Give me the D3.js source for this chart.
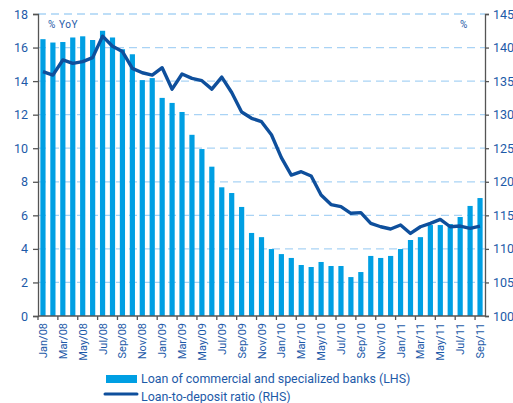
<!DOCTYPE html>
<html>
<head>
<meta charset="utf-8">
<script src="https://cdn.jsdelivr.net/npm/d3@7"></script>
<style>
  body { margin: 0; background: #fff; }
  svg text { font-family: Roboto, "Open Sans", sans-serif; fill: #1d5aa8; }
</style>
</head>
<body>
<div id="chart"></div>
<script>
// monthly data, Jan/08 .. Sep/11
var monthNames = ["Jan", "Feb", "Mar", "Apr", "May", "Jun", "Jul", "Aug", "Sep", "Oct", "Nov", "Dec"];
var years = ["08", "09", "10", "11"];
var months = [];
years.forEach(function(y) {
    monthNames.forEach(function(m) { months.push(m + "/" + y); });
});
months = months.slice(0, 45);

// Loan of commercial and specialized banks, % YoY (LHS)
var loanGrowth = [16.5, 16.3, 16.33, 16.6, 16.67, 16.45, 17.0, 16.6, 15.9, 15.6, 14.06, 14.18,
    13.0, 12.7, 12.16, 10.8, 9.95, 8.9, 7.67, 7.33, 6.5, 4.95, 4.7, 3.99,
    3.69, 3.46, 3.04, 2.92, 3.22, 2.98, 2.98, 2.32, 2.62, 3.58, 3.46, 3.58,
    3.99, 4.53, 4.7, 5.42, 5.42, 5.48, 5.9, 6.56, 7.03];

// Loan-to-deposit ratio, % (RHS)
var ldRatio = [136.4, 135.9, 138.15, 137.65, 137.9, 138.5, 141.7, 140.2, 139.4, 136.9, 136.25, 135.9,
    137.0, 133.8, 136.06, 135.4, 135.06, 133.8, 135.6, 133.3, 130.4, 129.46, 128.95, 127.0,
    123.6, 121.0, 121.5, 120.86, 118.03, 116.6, 116.3, 115.3, 115.4, 113.8, 113.3, 112.96,
    113.56, 112.3, 113.3, 113.8, 114.4, 113.3, 113.4, 113.07, 113.4];

var leftTicks = [0, 2, 4, 6, 8, 10, 12, 14, 16, 18];
var rightTicks = [100, 105, 110, 115, 120, 125, 130, 135, 140, 145];

var legendLabels = ["Loan of commercial and specialized banks (LHS)", "Loan-to-deposit ratio (RHS)"];

var svgWidth = 513;
var svgHeight = 403;
var margin = { top: 14, right: 28, bottom: 87, left: 38 };
var width = svgWidth - margin.left - margin.right;
var height = svgHeight - margin.top - margin.bottom;

var barColor = "#009fe3";
var lineColor = "#0e4f9c";
var axisColor = "#555555";

var svg = d3.select("#chart")
    .append("svg")
    .attr("width", svgWidth)
    .attr("height", svgHeight);

var chartGroup = svg.append("g")
    .attr("transform", `translate(${margin.left}, ${margin.top})`);

// one slot per month, bars sit in the middle of the slot
var xScale = d3.scaleBand()
    .domain(months)
    .range([0, width]);

var xStart = function(m) { return xScale(m); };
var xMid = function(m) { return xScale(m) + xScale.bandwidth() / 2; };

var yLeft = d3.scaleLinear().domain([0, 18]).range([height, 0]);
var yRight = d3.scaleLinear().domain([100, 145]).range([height, 0]);

// dashed gridlines
chartGroup.append("g")
    .selectAll("line")
    .data(leftTicks.slice(1))
    .enter()
    .append("line")
    .attr("x1", 0)
    .attr("x2", width)
    .attr("y1", d => yLeft(d))
    .attr("y2", d => yLeft(d))
    .attr("stroke", "#a9d3f5")
    .attr("stroke-width", 1.3)
    .attr("stroke-dasharray", "8,5");

// bars
chartGroup.selectAll(".bar")
    .data(loanGrowth)
    .enter()
    .append("rect")
    .attr("class", "bar")
    .attr("x", (d, i) => xMid(months[i]) - 2.6)
    .attr("width", 5.2)
    .attr("y", d => yLeft(d))
    .attr("height", d => height - yLeft(d))
    .attr("fill", barColor);

// line
var line = d3.line()
    .x((d, i) => xMid(months[i]))
    .y(d => yRight(d));

chartGroup.append("path")
    .datum(ldRatio)
    .attr("d", line)
    .attr("fill", "none")
    .attr("stroke", lineColor)
    .attr("stroke-width", 3.4)
    .attr("stroke-linejoin", "round");

// left axis
var leftAxis = d3.axisLeft(yLeft).tickValues(leftTicks).tickSize(5).tickPadding(5);
var gLeft = chartGroup.append("g").call(leftAxis);
gLeft.select(".domain").attr("stroke", axisColor).attr("stroke-width", 1.3);
gLeft.selectAll(".tick line").attr("stroke", axisColor).attr("stroke-width", 1.3);
gLeft.selectAll("text").attr("font-size", "12.5px").attr("fill", "#1d5aa8");

// right axis
var rightAxis = d3.axisRight(yRight).tickValues(rightTicks).tickSize(4).tickPadding(4);
var gRight = chartGroup.append("g")
    .attr("transform", `translate(${width}, 0)`)
    .call(rightAxis);
gRight.select(".domain").attr("stroke", axisColor).attr("stroke-width", 1.3);
gRight.selectAll(".tick line").attr("stroke", axisColor).attr("stroke-width", 1.3);
gRight.selectAll("text").attr("font-size", "12.5px").attr("fill", "#1d5aa8");

// bottom axis: ticks every second month at slot start, labels at slot centre
var tickMonths = months.filter((m, i) => i % 2 === 0);
var gBottom = chartGroup.append("g")
    .attr("transform", `translate(0, ${height})`);
gBottom.append("line")
    .attr("x1", 0).attr("x2", width)
    .attr("stroke", axisColor).attr("stroke-width", 1.3);
gBottom.selectAll(".xtick")
    .data(tickMonths)
    .enter()
    .append("line")
    .attr("class", "xtick")
    .attr("x1", d => xStart(d)).attr("x2", d => xStart(d))
    .attr("y1", 0).attr("y2", 4)
    .attr("stroke", axisColor).attr("stroke-width", 1.3);
gBottom.selectAll(".xlabel")
    .data(tickMonths)
    .enter()
    .append("text")
    .attr("class", "xlabel")
    .attr("transform", d => `translate(${xMid(d) + 4}, 7) rotate(-90)`)
    .attr("text-anchor", "end")
    .attr("font-size", "11px")
    .text(d => d);

// unit labels
chartGroup.append("text")
    .attr("x", 10).attr("y", 14)
    .attr("font-size", "10px")
    .attr("letter-spacing", "0.6px")
    .text("% YoY");
chartGroup.append("text")
    .attr("x", width - 25).attr("y", 14)
    .attr("font-size", "10px")
    .text("%");

// legend
var legend = svg.append("g");
legend.append("rect")
    .attr("x", 106).attr("y", 375)
    .attr("width", 31).attr("height", 8)
    .attr("fill", barColor);
legend.append("line")
    .attr("x1", 105).attr("x2", 137)
    .attr("y1", 394).attr("y2", 394)
    .attr("stroke", lineColor)
    .attr("stroke-width", 3)
    .attr("stroke-linecap", "round");
legend.selectAll(".legText")
    .data(legendLabels)
    .enter()
    .append("text")
    .attr("class", "legText")
    .attr("x", 141)
    .attr("y", (d, i) => 383 + i * 18)
    .attr("font-size", "12.4px")
    .text(d => d);
</script>
</body>
</html>
